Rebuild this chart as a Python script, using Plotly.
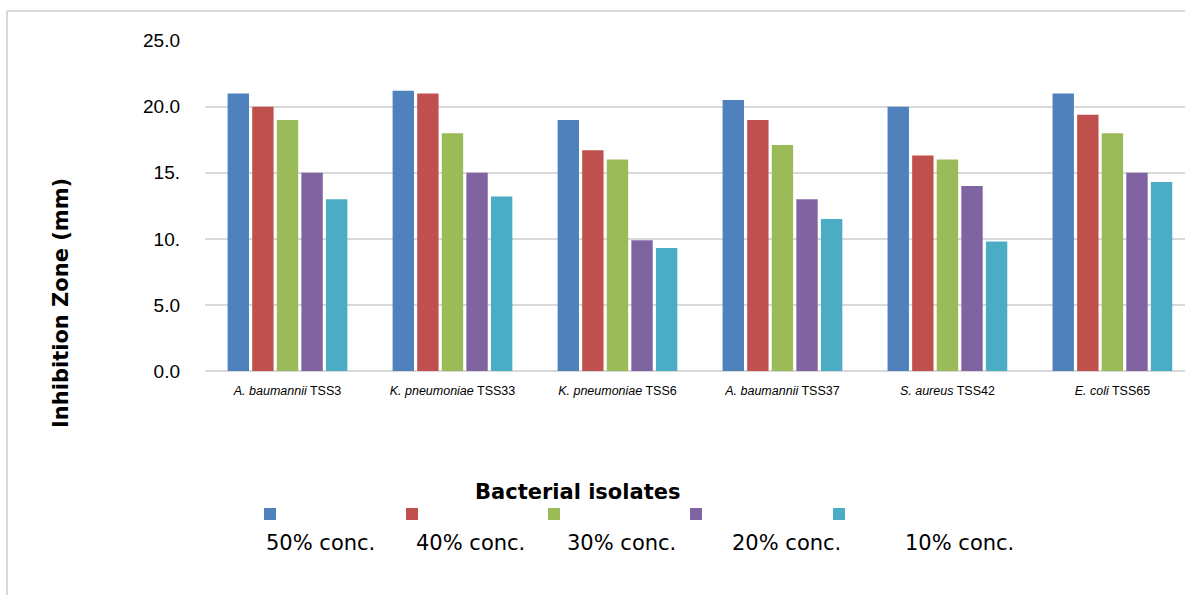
import plotly.graph_objects as go

categories = ["<i>A. baumannii</i> TSS3", "<i>K. pneumoniae</i> TSS33", "<i>K. pneumoniae</i> TSS6",
              "<i>A. baumannii</i> TSS37", "<i>S. aureus</i> TSS42", "<i>E. coli</i> TSS65"]
series_names = ["50% conc.", "40% conc.", "30% conc.", "20% conc.", "10% conc."]
conc_50 = [21.0, 21.2, 19.0, 20.5, 20.0, 21.0]
conc_40 = [20.0, 21.0, 16.7, 19.0, 16.3, 19.4]
conc_30 = [19.0, 18.0, 16.0, 17.1, 16.0, 18.0]
conc_20 = [15.0, 15.0, 9.9, 13.0, 14.0, 15.0]
conc_10 = [13.0, 13.2, 9.3, 11.5, 9.8, 14.3]
y_tickvals = [0, 5, 10, 15, 20, 25]
y_ticktext = ["0.0", "5.0", "10.", "15.", "20.0", "25.0"]

colors = ["#4F81BD", "#C0504D", "#9BBB59", "#8064A2", "#4BACC6"]
values = [conc_50, conc_40, conc_30, conc_20, conc_10]

W, H = 1185, 595
L, R, T, B = 205, 0, 40, 224
PW, PH = W - L - R, H - T - B


def px(x):
    return (x - L) / PW


def py(y):
    return (H - B - y) / PH


fig = go.Figure()
for name, vals, c in zip(series_names, values, colors):
    fig.add_trace(go.Bar(x=categories, y=vals, name=name, marker_color=c,
                         marker_line_width=0, showlegend=False))

shapes = []
annotations = []
# frame lines
shapes.append(dict(type="line", xref="paper", yref="paper", x0=px(7), x1=px(1185), y0=py(11), y1=py(11),
                   line=dict(color="#d9d9d9", width=2)))
shapes.append(dict(type="line", xref="paper", yref="paper", x0=px(7), x1=px(7), y0=py(11), y1=py(600),
                   line=dict(color="#d9d9d9", width=2)))

# custom legend (squares above labels)
sq_left = [264, 406, 548, 690, 833]
txt_left = [264, 414, 565, 730, 903]
for i, (name, c) in enumerate(zip(series_names, colors)):
    shapes.append(dict(type="rect", xref="paper", yref="paper",
                       x0=px(sq_left[i]), x1=px(sq_left[i] + 12), y0=py(520), y1=py(508),
                       fillcolor=c, line=dict(width=0)))
    annotations.append(dict(text=name, xref="paper", yref="paper", x=px(txt_left[i]), y=py(543),
                            xanchor="left", yanchor="middle", showarrow=False,
                            font=dict(family="DejaVu Sans", size=21, color="#000000")))

annotations.append(dict(text="<b>Bacterial isolates</b>", xref="paper", yref="paper", x=px(577), y=py(492),
                        xanchor="center", yanchor="middle", showarrow=False,
                        font=dict(family="DejaVu Sans", size=21, color="#000000")))
annotations.append(dict(text="<b>Inhibition Zone (mm)</b>", xref="paper", yref="paper", x=px(61), y=py(303),
                        xanchor="center", yanchor="middle", showarrow=False, textangle=-90,
                        font=dict(family="DejaVu Sans", size=21, color="#000000")))

fig.update_layout(
    width=W, height=H,
    margin=dict(l=L, r=R, t=T, b=B, pad=0),
    paper_bgcolor="white", plot_bgcolor="white",
    barmode="group", bargap=0.255, bargroupgap=0.13,
    shapes=shapes, annotations=annotations,
    xaxis=dict(range=[-0.5, 5.44], showgrid=False, showline=False, ticks="",
               ticklabelstandoff=10,
               tickfont=dict(family="Liberation Sans", size=12.5, color="#000000")),
    yaxis=dict(range=[0, 25.05], tickvals=y_tickvals, ticktext=y_ticktext,
               showgrid=True, gridcolor="#d9d9d9", gridwidth=2,
               zeroline=True, zerolinecolor="#d9d9d9", zerolinewidth=2,
               showline=False, ticks="", ticklabelstandoff=24,
               tickfont=dict(family="Liberation Sans", size=19, color="#000000")),
)

fig.write_html("out.html", config={"displayModeBar": False},
               post_script="document.body.style.margin='0';")
